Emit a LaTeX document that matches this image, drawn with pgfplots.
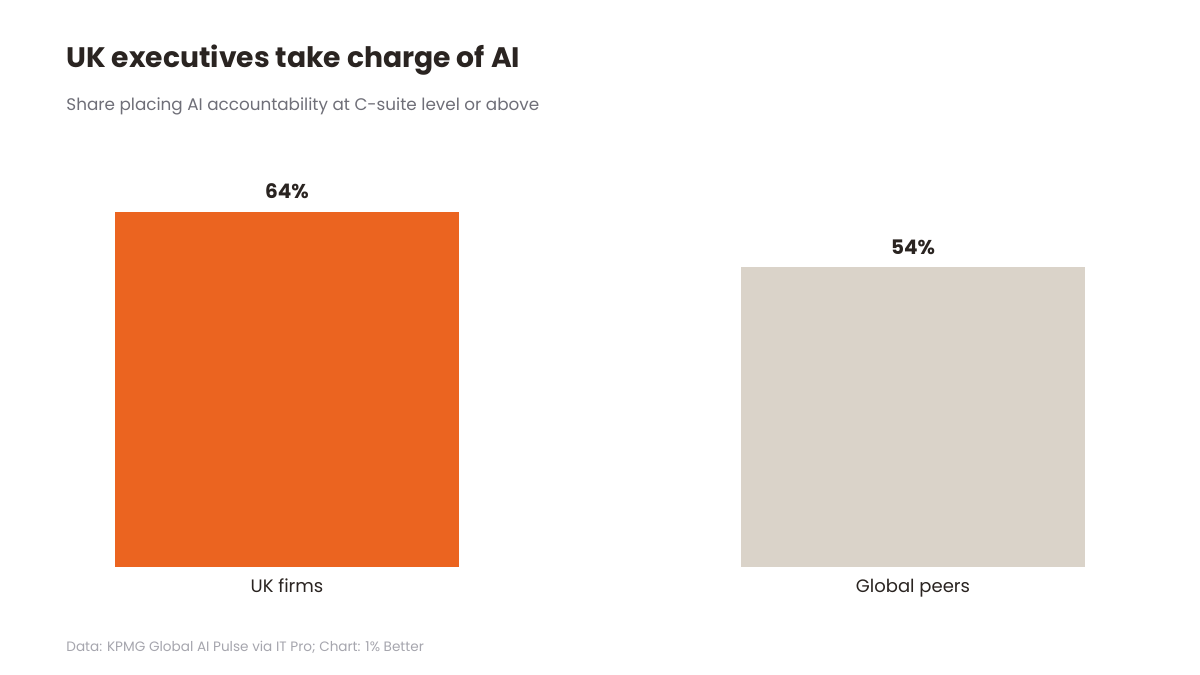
\documentclass[border=0pt]{standalone}
\usepackage{pgfplots}
\pgfplotsset{compat=1.18}
\usepackage{fontspec}
\setmainfont{Poppins}

\definecolor{titlecol}{HTML}{2A2421}
\definecolor{subcol}{HTML}{6F6F78}
\definecolor{footcol}{HTML}{A6A6AE}
\definecolor{ukorange}{HTML}{EB6420}
\definecolor{globalbeige}{HTML}{DAD3C9}

\begin{document}
\begin{tikzpicture}
% page frame, 1200 x 675 px at 0.5pt per px
\begin{scope}[x=0.5pt,y=0.5pt,every node/.style={inner sep=0pt}]
\fill[white] (0,0) rectangle (1200,675);
\node[anchor=base west,text=titlecol,font=\fontsize{14.1}{16}\selectfont\bfseries] at (66,607) {UK executives take charge of AI};
\node[anchor=base west,text=subcol,font=\fontsize{8.4}{10}\selectfont] at (66,564) {Share placing AI accountability at C-suite level or above};
\node[anchor=base west,text=footcol,font=\fontsize{6.8}{8}\selectfont] at (66,24) {Data: KPMG Global AI Pulse via IT Pro; Chart: 1\% Better};
\node[anchor=base,text=titlecol,font=\fontsize{9}{11}\selectfont] at (287,83) {UK firms};
\node[anchor=base,text=titlecol,font=\fontsize{9}{11}\selectfont] at (913,83) {Global peers};
\end{scope}

\begin{axis}[
  at={(33pt,54pt)}, anchor=south west,
  scale only axis,
  width=534pt, height=277.5pt,
  xmin=-0.353, xmax=1.353,
  ymin=0, ymax=100,
  axis lines=none,
  clip=false,
  ybar, bar width=172pt, bar shift=0pt,
  xtick=\empty,
  ytick=\empty,
  /pgf/number format/assume math mode=true,
  nodes near coords={\pgfmathprintnumber{\pgfplotspointmeta}\%},
  every node near coord/.append style={text=titlecol,font=\fontsize{10}{12}\selectfont\bfseries,yshift=3pt},
]
\addplot[fill=ukorange, draw=none] coordinates {(0,64)};
\addplot[fill=globalbeige, draw=none] coordinates {(1,54)};
\end{axis}
\end{tikzpicture}
\end{document}
